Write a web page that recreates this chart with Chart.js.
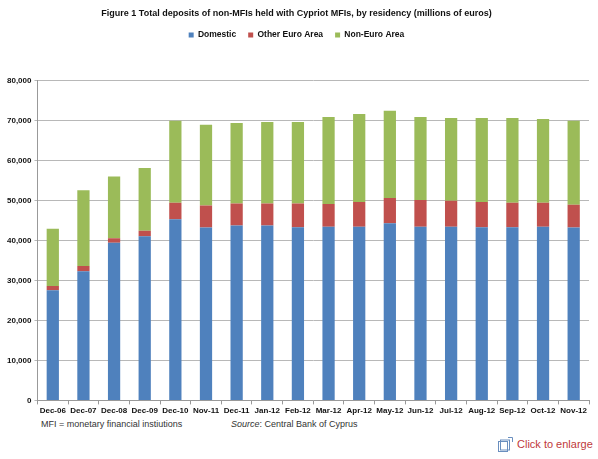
<!DOCTYPE html>
<html>
<head>
<meta charset="utf-8">
<script src="https://cdn.jsdelivr.net/npm/chart.js@4"></script>
<style>
  body { margin: 0; background: #fff; font-family: "Liberation Sans", Arial, sans-serif; }
  #wrap { position: relative; width: 598px; height: 459px; }
  #box { position: absolute; left: 0; top: 0; width: 598px; height: 418px; }
  .note { position: absolute; font-size: 9px; color: #333; white-space: nowrap; }
  #enlarge { position: absolute; left: 517px; top: 438px; font-size: 11px; color: #c0393b; white-space: nowrap; }
  #icon { position: absolute; left: 498px; top: 437px; width: 15px; height: 15px; }
</style>
</head>
<body>
<div id="wrap">
  <div id="box"><canvas id="deposits-chart"></canvas></div>
  <div class="note" style="left:41px; top:419px;">MFI = monetary financial instiutions</div>
  <div class="note" style="left:231px; top:419px;"><i>Source</i>: Central Bank of Cyprus</div>
  <svg id="icon" viewBox="0 0 15 15">
    <rect x="0.5" y="4.5" width="9" height="10" fill="none" stroke="#6a8fbf" stroke-width="1"/>
    <rect x="2.5" y="3" width="9" height="10" fill="none" stroke="#6a8fbf" stroke-width="1"/>
    <path d="M10 0.5 H14.5 V5" fill="none" stroke="#6a8fbf" stroke-width="1"/>
  </svg>
  <div id="enlarge">Click to enlarge</div>
</div>
<script>
var months = ['Dec-06', 'Dec-07', 'Dec-08', 'Dec-09', 'Dec-10', 'Nov-11', 'Dec-11', 'Jan-12', 'Feb-12',
    'Mar-12', 'Apr-12', 'May-12', 'Jun-12', 'Jul-12', 'Aug-12', 'Sep-12', 'Oct-12', 'Nov-12'];
var domestic = [27500, 32300, 39400, 41000, 45300, 43200, 43700, 43700, 43300,
    43400, 43400, 44300, 43400, 43400, 43300, 43300, 43400, 43200];
var otherEuro = [1100, 1300, 1100, 1400, 4100, 5500, 5500, 5500, 5900,
    5700, 6200, 6300, 6700, 6500, 6300, 6100, 6000, 5700];
var nonEuro = [14300, 18900, 15450, 15700, 20500, 20200, 20100, 20400, 20400,
    21700, 22000, 21800, 20700, 20700, 21000, 21200, 20900, 21000];
var yTicks = [0, 10000, 20000, 30000, 40000, 50000, 60000, 70000, 80000];

// leaves a gap under the legend, like the original
var legendGap = {
    id: 'legendGap',
    beforeInit: function (chart) {
        var fit = chart.legend.fit;
        chart.legend.fit = function () {
            fit.bind(chart.legend)();
            this.height += 31;
        };
    }
};

function depositsChart() {
    var ctx = document.getElementById('deposits-chart').getContext('2d');
    var tickFont = { family: 'Liberation Sans', size: 8, weight: 'bold' };
    new Chart(ctx, {
        type: 'bar',
        data: {
            labels: months,
            datasets: [{
                label: 'Domestic',
                data: domestic,
                backgroundColor: '#4f81bd'
            }, {
                label: 'Other Euro Area',
                data: otherEuro,
                backgroundColor: '#c0504d'
            }, {
                label: 'Non-Euro Area',
                data: nonEuro,
                backgroundColor: '#9bbb59'
            }]
        },
        options: {
            responsive: true,
            maintainAspectRatio: false,
            animation: false,
            barPercentage: 0.4,
            categoryPercentage: 1,
            layout: { padding: { left: 4, right: 9, top: 4, bottom: 0 } },
            plugins: {
                title: {
                    display: true,
                    text: 'Figure 1 Total deposits of non-MFIs held with Cypriot MFIs, by residency (millions of euros)',
                    color: '#111',
                    font: { family: 'Liberation Sans', size: 9, weight: 'bold' },
                    padding: { top: 4, bottom: 0 }
                },
                legend: {
                    position: 'top',
                    labels: {
                        color: '#111',
                        boxWidth: 5,
                        boxHeight: 5,
                        padding: 12,
                        font: { family: 'Liberation Sans', size: 8.5, weight: 'bold' }
                    }
                },
                tooltip: { enabled: false }
            },
            scales: {
                x: {
                    stacked: true,
                    grid: { offset: true, drawOnChartArea: false, color: '#999', tickLength: 4 },
                    border: { color: '#999' },
                    ticks: { color: '#111', font: tickFont, maxRotation: 0, autoSkip: false, padding: 2 }
                },
                y: {
                    stacked: true,
                    min: 0,
                    max: 80000,
                    afterBuildTicks: function (axis) {
                        axis.ticks = yTicks.map(function (v) { return { value: v }; });
                    },
                    grid: { color: '#b8b8b8', tickLength: 3 },
                    border: { color: '#999' },
                    ticks: {
                        color: '#111',
                        font: tickFont,
                        padding: 3,
                        callback: function (v) { return v.toLocaleString('en-US'); }
                    }
                }
            }
        },
        plugins: [legendGap]
    });
}
depositsChart();
</script>
</body>
</html>
